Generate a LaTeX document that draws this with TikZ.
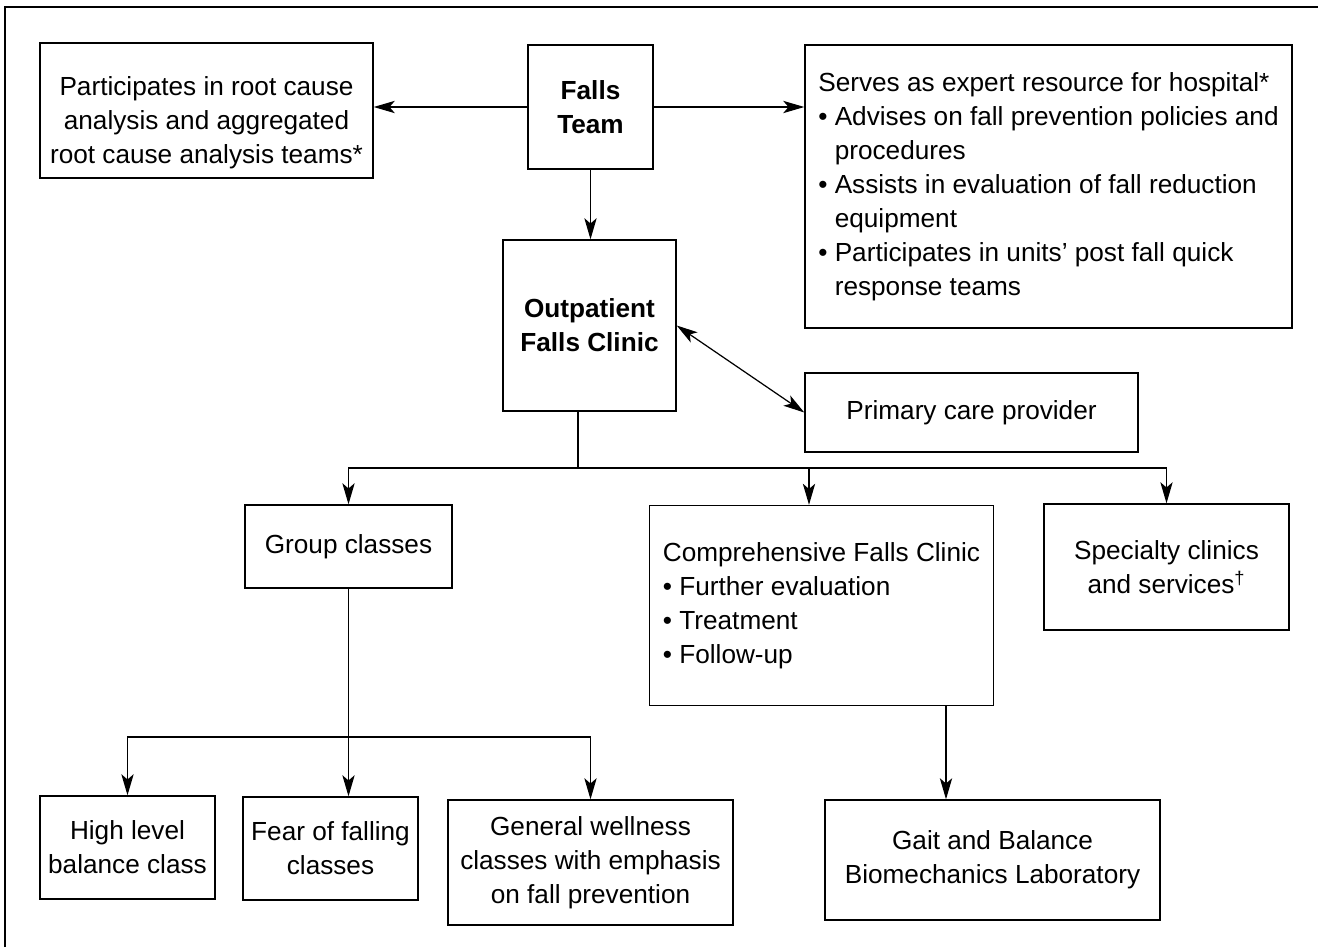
\documentclass[tikz,border=0pt]{standalone}
\usepackage{fontspec}
\setmainfont{Liberation Sans}
\usetikzlibrary{arrows.meta}

\tikzset{
  box/.style 2 args={draw=black, line width=0.8pt, inner sep=0pt, align=center,
    minimum width=#1*0.02cm, minimum height=#2*0.02cm},
  arr/.style={black, line width=0.7pt, -{Stealth[length=12pt,width=7pt,inset=3pt]}},
  dblarr/.style={black, line width=0.7pt,
    {Stealth[length=12pt,width=7pt,inset=3pt]}-{Stealth[length=12pt,width=7pt,inset=3pt]}},
}
\newcommand{\bul}{\textbullet\ }
\newcommand{\hang}{\phantom{\textbullet\ }}

\begin{document}
\begin{tikzpicture}[x=0.02cm, y=-0.02cm, font=\fontsize{14.9}{19.4}\selectfont]
\useasboundingbox (0,0) rectangle (1318,947);
% frame
\draw[black, line width=0.8pt] (5,947) -- (5,7) -- (1318,7);

% top row
\node[box={333}{135}, label={[align=center, yshift=-0.24cm]center:Participates in root cause\\analysis and aggregated\\root cause analysis teams*}] (rca) at (206.5,110.5) {};
\node[box={125}{124}, font=\fontsize{14.9}{19.4}\selectfont\bfseries] (team) at (590.5,107) {Falls\\Team};
\node[box={487}{283}, align=left] (expert) at (1048.5,186.5) {Serves as expert resource for hospital*\\
\bul Advises on fall prevention policies and\\\hang procedures\\
\bul Assists in evaluation of fall reduction\\\hang equipment\\
\bul Participates in units' post fall quick\\\hang response teams};

% clinic
\node[box={173}{171}, font=\fontsize{14.9}{19.4}\selectfont\bfseries] (opc) at (589.5,325.5) {Outpatient\\Falls Clinic};
\node[box={333}{79}] (pcp) at (971.5,412.5) {Primary care provider};

% services
\node[box={207}{83}] (grp) at (348.5,546.5) {Group classes};
\node[box={344}{200}, align=left] (comp) at (821.5,605.5) {Comprehensive Falls Clinic\\
\bul Further evaluation\\\bul Treatment\\\bul Follow-up};
\node[box={245}{126}] (spec) at (1166.5,567) {Specialty clinics\\and services\textsuperscript{\dag}};

% classes
\node[box={175}{103}] (high) at (127.5,847.5) {High level\\balance class};
\node[box={175}{103}] (fear) at (330.5,848.5) {Fear of falling\\classes};
\node[box={285}{125}] (gen) at (590.5,862.5) {General wellness\\classes with emphasis\\on fall prevention};
\node[box={335}{120}] (gait) at (992.5,860) {Gait and Balance\\Biomechanics Laboratory};

% connectors
\coordinate (bus) at (578,468);
\coordinate (cin) at (809,0);
\coordinate (gin) at (946,0);
\coordinate (bus2) at (0,737);

\draw[arr] (team.west) -- (team.west -| rca.east);
\draw[arr] (team.east) -- (team.east -| expert.west);
\draw[arr] (team.south) -- (team.south |- opc.north);
\draw[dblarr] (opc.east) -- (pcp.west);

\draw[black, line width=0.7pt] (opc.south -| bus) -- (bus);
\draw[arr] (bus) -| (grp.north);
\draw[arr] (bus) -| (spec.north);
\draw[arr] (bus -| cin) -- (cin |- comp.north);

\draw[arr] (grp.south) -- (grp.south |- fear.north);
\draw[arr] (grp.south |- bus2) -| (high.north);
\draw[arr] (grp.south |- bus2) -| (gen.north);

\draw[arr] (comp.south -| gin) -- (gin |- gait.north);
\end{tikzpicture}
\end{document}
